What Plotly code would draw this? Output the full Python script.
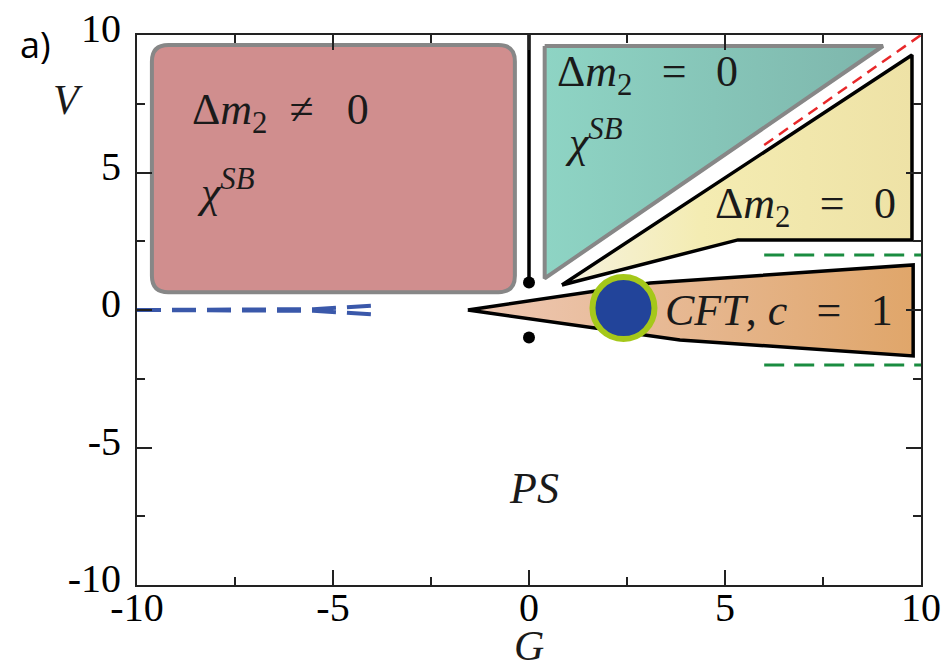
import plotly.graph_objects as go

# Axis ranges and tick values
x_range = [-10, 10]
y_range = [-10, 10]
tick_vals = [-10, -5, 0, 5, 10]
tick_text = ["-10", "-5", "0", "5", "10"]

# Phase regions (G, V) vertices
teal_G = [0.40, 9.03, 0.40, 0.40]
teal_V = [9.60, 9.60, 1.15, 9.60]

yellow_G = [0.84, 9.77, 9.77, 5.33, 0.84]
yellow_V = [0.91, 9.27, 2.55, 2.55, 0.91]

cft_G = [-1.56, 3.09, 9.80, 9.80, 3.85, -1.56]
cft_V = [0.00, 0.98, 1.64, -1.67, -1.09, 0.00]

# Rounded box corners (G, V) and corner radii
box_G = [-9.62, -0.36]
box_V = [0.65, 9.64]
box_rG, box_rV = 0.42, 0.60

# Boundary lines
sym_G = [0, 0]
sym_V = [10, 1.0]
dots_G = [0, 0]
dots_V = [1.0, -1.0]

blue_G = [-10, -7, -5.5, -4]
blue_V_up = [0, 0, 0.03, 0.16]
blue_V_dn = [0, 0, -0.03, -0.16]

red_G = [6.0, 10.0]
red_V = [6.0, 10.0]

green_G = [6.0, 10.0]
green_V_up = [2.0, 2.0]
green_V_dn = [-2.0, -2.0]

cft_point_G = [2.41]
cft_point_V = [0.07]

SERIF = "Liberation Serif"
TXT = "#1a1a1a"
SP = "\u2002\u2006"  # spacing around relation signs

fig = go.Figure()

# Rounded rectangle for the symmetry-broken region
x0, x1 = box_G
y0, y1 = box_V
rx, ry = box_rG, box_rV
box_path = (
    f"M {x0 + rx},{y0} L {x1 - rx},{y0} Q {x1},{y0} {x1},{y0 + ry} "
    f"L {x1},{y1 - ry} Q {x1},{y1} {x1 - rx},{y1} "
    f"L {x0 + rx},{y1} Q {x0},{y1} {x0},{y1 - ry} "
    f"L {x0},{y0 + ry} Q {x0},{y0} {x0 + rx},{y0} Z"
)
fig.add_shape(type="path", path=box_path, xref="x", yref="y",
              fillcolor="#D08E8E", line=dict(color="#878787", width=4),
              layer="below")

# Teal triangle
fig.add_trace(go.Scatter(
    x=teal_G, y=teal_V, mode="lines", fill="toself",
    fillgradient=dict(type="horizontal",
                      colorscale=[[0, "#8ED4C4"], [1, "#7EB6AC"]]),
    line=dict(color="#878787", width=4), hoverinfo="skip"))

# Yellow wedge
fig.add_trace(go.Scatter(
    x=yellow_G, y=yellow_V, mode="lines", fill="toself",
    fillgradient=dict(type="horizontal",
                      colorscale=[[0, "#F6F2DE"], [0.4, "#F4ECB2"], [1, "#EEE2A6"]]),
    line=dict(color="black", width=3.5), hoverinfo="skip"))

# CFT wedge
fig.add_trace(go.Scatter(
    x=cft_G, y=cft_V, mode="lines", fill="toself",
    fillgradient=dict(type="horizontal",
                      colorscale=[[0, "#EEC8B4"], [0.5, "#E6B790"], [1, "#E0A66A"]]),
    line=dict(color="black", width=3.5), hoverinfo="skip"))

# Dashed boundaries
for vy in (blue_V_up, blue_V_dn):
    fig.add_trace(go.Scatter(x=blue_G, y=vy, mode="lines",
                             line=dict(color="#3A58AA", width=4, dash="24px,11px"),
                             hoverinfo="skip"))
fig.add_trace(go.Scatter(x=red_G, y=red_V, mode="lines",
                         line=dict(color="#E8282A", width=2.5, dash="11px,7px"),
                         hoverinfo="skip"))
for vy in (green_V_up, green_V_dn):
    fig.add_trace(go.Scatter(x=green_G, y=vy, mode="lines",
                             line=dict(color="#1A8C40", width=3, dash="20px,10px"),
                             hoverinfo="skip"))

# Vertical line on G = 0 and the two end points
fig.add_trace(go.Scatter(x=sym_G, y=sym_V, mode="lines",
                         line=dict(color="black", width=3.5), hoverinfo="skip"))
fig.add_trace(go.Scatter(x=dots_G, y=dots_V, mode="markers",
                         marker=dict(color="black", size=12), hoverinfo="skip"))

# CFT point
fig.add_trace(go.Scatter(x=cft_point_G, y=cft_point_V, mode="markers",
                         marker=dict(color="#22449A", size=62,
                                     line=dict(color="#A5C81A", width=6)),
                         hoverinfo="skip"))

# Region labels
math_font = dict(family=SERIF, size=44, color=TXT)
labels = [
    (-8.65, 7.2, "Δ<i>m</i><sub>2</sub>\u2002≠\u2002 0", "left"),
    (-8.52, 4.4, "<i>χ</i><sup><i>SB</i></sup>", "left"),
    (0.66, 8.55, f"Δ<i>m</i><sub>2</sub>{SP}={SP}0", "left"),
    (0.87, 6.2, "<i>χ</i><sup><i>SB</i></sup>", "left"),
    (4.69, 3.75, f"Δ<i>m</i><sub>2</sub>{SP}={SP}0", "left"),
    (3.42, 0.0, f"<i>CFT</i>, <i>c</i>{SP}={SP}1", "left"),
    (0.13, -6.5, "<i>PS</i>", "center"),
]
for gx, vy, txt, anchor in labels:
    fig.add_annotation(x=gx, y=vy, text=txt, showarrow=False,
                       xanchor=anchor, yanchor="middle", font=math_font)

# Axis titles and panel tag
fig.add_annotation(x=-0.088, y=0.882, xref="paper", yref="paper", text="<i>V</i>",
                   showarrow=False, xanchor="center", yanchor="middle",
                   font=dict(family=SERIF, size=42, color=TXT))
fig.add_annotation(x=0.5, y=-0.1564, xref="paper", yref="paper", text="<i>G</i>",
                   showarrow=False, xanchor="center", yanchor="bottom",
                   font=dict(family=SERIF, size=42, color=TXT))
fig.add_annotation(x=-0.13, y=0.982, xref="paper", yref="paper", text="a)",
                   showarrow=False, xanchor="center", yanchor="middle",
                   font=dict(family="Open Sans", size=36, color="black"))

axis_common = dict(
    showgrid=False, zeroline=False, showline=True, linecolor="#222", linewidth=2,
    mirror="ticks", ticks="inside", ticklen=15, tickwidth=1.5, tickcolor="#222",
    tickvals=tick_vals, ticktext=tick_text, automargin=False,
    tickfont=dict(family=SERIF, size=40, color="black"),
    minor=dict(ticks="inside", ticklen=8, tickwidth=1.5, tickcolor="#222",
               dtick=2.5, tick0=0),
)
fig.update_xaxes(range=x_range, ticklabelstandoff=-14, **axis_common)
fig.update_yaxes(range=y_range, ticklabelstandoff=6, ticklabelshift=-7, **axis_common)

fig.update_layout(
    width=951, height=671, showlegend=False,
    margin=dict(l=137, r=30, t=35, b=86),
    paper_bgcolor="white", plot_bgcolor="white",
)

fig.write_html("out.html")
